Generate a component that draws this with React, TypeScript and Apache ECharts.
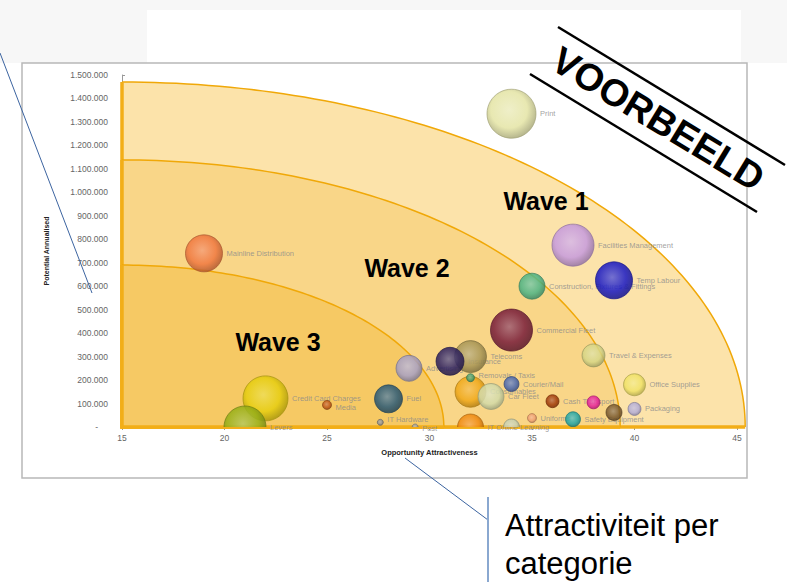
import { useEffect, useRef } from 'react';
import * as echarts from 'echarts';

// ---- data ----
const categories = [
  'Print', 'Facilities Management', 'Temp Labour', 'Construction, Fixtures & Fittings',
  'Commercial Fleet', 'Travel & Expenses', 'Office Supplies', 'Packaging', '', '',
  'Cash Transport', 'Uniforms', 'Safety Equipment', 'Telecoms', 'Insurance', 'Advertising',
  'Consumables', 'Car Fleet', 'Courier/Mail', 'Removals / Taxis', 'IT Online Learning', '',
  'Mainline Distribution', 'Credit Card Charges', 'Levers', 'Fuel', 'Media', 'IT Hardware', 'Post',
];
const attractiveness = [
  34, 37, 39, 35, 34, 38, 40, 40, 39, 38,
  36, 35, 37, 32, 31, 29, 32, 33, 34, 32, 32, 34,
  19, 22, 21, 28, 25, 27.6, 29.3,
];
const potential = [
  1335000, 775000, 625000, 600000, 413000, 305000, 180000, 77000, 62000, 105000,
  110000, 38000, 33000, 300000, 280000, 250000, 150000, 130000, 183000, 210000, 0, 0,
  740000, 122000, 0, 120000, 94000, 20000, 0,
];
const volume = [
  600, 441, 342, 169, 441, 132, 121, 42, 64, 42,
  42, 20, 56, 256, 196, 169, 240, 169, 56, 16, 169, 64,
  342, 506, 441, 196, 20, 9, 9,
];
const bubbleColors = [
  '#e4e4a4', '#c69ade', '#1818c4', '#4cb486', '#781c3a', '#d6d686', '#f0e266', '#b2acd6', '#7a5a30', '#e6209a',
  '#a03a08', '#f0a070', '#20a6a6', '#a89656', '#2c2060', '#a6a0c6', '#f0a818', '#d2daa8', '#4866ae', '#48a070', '#f08a10', '#c8d0b0',
  '#f07840', '#e6ce10', '#98b018', '#2a5a78', '#c05818', '#909090', '#a0a0a0',
];
// small label nudges (pixels) to limit text collisions
const labelNudge: Record<string, number[]> = {
  'Media': [0, 3],
  'Post': [0, 1],
  'IT Hardware': [0, -3],
  'Removals / Taxis': [0, -2],
};

const waveNames = ['Wave 1', 'Wave 2', 'Wave 3'];
const waveReachX = [30.4, 24.3, 15.7];
const waveReachY = [1470000, 1138000, 690000];
const waveFills = ['#fce3aa', '#f9d688', '#f6c964'];

const X_MIN = 15;
const X_MAX = 45;
const Y_MAX = 1500000;

const FONT = '"Liberation Sans", Arial, sans-serif';

function mix(hex: string, target: number, t: number) {
  const h = hex.replace('#', '');
  const r = parseInt(h.slice(0, 2), 16);
  const g = parseInt(h.slice(2, 4), 16);
  const b = parseInt(h.slice(4, 6), 16);
  const f = (c: number) => Math.round(c + (target - c) * t);
  return `rgb(${f(r)},${f(g)},${f(b)})`;
}

function fmtY(v: number) {
  if (v === 0) return '{d|-}';
  return String(v).replace(/\B(?=(\d{3})+(?!\d))/g, '.');
}

export default function App() {
  const ref = useRef<HTMLDivElement>(null);
  useEffect(() => {
    if (!ref.current) return;
    const chart = echarts.init(ref.current, undefined, { renderer: 'svg' });
    const bubbleData = categories.map((n, i) => ({
      name: n,
      value: [attractiveness[i], potential[i], volume[i]],
    }));
    const labelData = bubbleData.map((d) =>
      labelNudge[d.name] ? { ...d, label: { offset: labelNudge[d.name] } } : d
    );
    chart.setOption({
      animation: false,
      backgroundColor: '#ffffff',
      grid: { left: 122, right: 50, top: 75, bottom: 155 },
      xAxis: {
        type: 'value', min: X_MIN, max: X_MAX, interval: 5,
        name: 'Opportunity Attractiveness', nameLocation: 'middle', nameGap: 21,
        nameTextStyle: { fontSize: 7.5, fontWeight: 'bold', color: '#222', fontFamily: FONT },
        axisLine: { show: true, lineStyle: { color: '#999' } },
        axisTick: { show: true, length: 3, lineStyle: { color: '#999' } },
        axisLabel: { fontSize: 8.5, color: '#666', margin: 6, fontFamily: FONT },
        splitLine: { show: false },
      },
      yAxis: {
        type: 'value', min: 0, max: Y_MAX, interval: 100000,
        name: 'Potential Annualised', nameLocation: 'middle', nameGap: 72, nameRotate: 90,
        nameTextStyle: { fontSize: 7, fontWeight: 'bold', color: '#222', fontFamily: FONT },
        axisLine: { show: true, lineStyle: { color: '#999' } },
        axisTick: { show: true, inside: true, length: 3, lineStyle: { color: '#999' } },
        axisLabel: {
          fontSize: 8.5, color: '#666', margin: 14, fontFamily: FONT,
          formatter: fmtY,
          rich: { d: { fontSize: 8.5, color: '#666', padding: [0, 10, 0, 0] } },
        },
        splitLine: { show: false },
      },
      series: [
        {
          type: 'custom',
          name: 'waves',
          z: 2,
          silent: true,
          data: waveNames.map((n, i) => ({ name: n, value: [waveReachX[i], waveReachY[i]] })),
          renderItem: (params: any, api: any) => {
            const i = params.dataIndex;
            const rx = api.value(0);
            const ry = api.value(1);
            const pts: number[][] = [];
            for (let k = 0; k <= 90; k++) {
              const t = (k * Math.PI) / 180;
              pts.push(api.coord([X_MIN + rx * Math.cos(t), ry * Math.sin(t)]));
            }
            const o = api.coord([X_MIN, 0]);
            return {
              type: 'group',
              children: [
                { type: 'polygon', shape: { points: [o, ...pts] }, style: { fill: waveFills[i] } },
                { type: 'polyline', shape: { points: pts }, style: { stroke: '#f0a808', lineWidth: 1.5, fill: 'none' } },
                { type: 'polyline', shape: { points: [pts[pts.length - 1], o, pts[0]] }, style: { stroke: '#f2ae18', lineWidth: 3.5, fill: 'none' } },
              ],
            };
          },
        },
        {
          type: 'scatter',
          name: 'labels',
          z: 3,
          clip: false,
          silent: true,
          data: labelData,
          symbolSize: (val: number[]) => 2 * Math.sqrt(val[2]),
          itemStyle: { color: 'rgba(0,0,0,0)' },
          label: {
            show: true, position: 'right', distance: 4,
            formatter: (p: any) => p.name,
            fontSize: 7.5, color: '#8a8a8a', fontFamily: FONT,
          },
        },
        {
          type: 'custom',
          name: 'bubbles',
          z: 4,
          clip: true,
          silent: true,
          data: bubbleData,
          renderItem: (params: any, api: any) => {
            const c = api.coord([api.value(0), api.value(1)]);
            const r = Math.sqrt(api.value(2));
            const col = bubbleColors[params.dataIndex];
            return {
              type: 'circle',
              shape: { cx: c[0], cy: c[1], r },
              style: {
                fill: new echarts.graphic.RadialGradient(0.45, 0.42, 0.62, [
                  { offset: 0, color: mix(col, 255, 0.3) },
                  { offset: 0.6, color: col },
                  { offset: 1, color: mix(col, 0, 0.3) },
                ]),
                stroke: mix(col, 0, 0.3),
                lineWidth: 0.8,
                opacity: 0.85,
              },
            };
          },
        },
      ],
      graphic: [
        { type: 'rect', z: -10, shape: { x: 0, y: 0, width: 787, height: 63 }, style: { fill: '#f7f7f7' } },
        { type: 'rect', z: -9, shape: { x: 147, y: 10, width: 594, height: 53 }, style: { fill: '#ffffff' } },
        { type: 'rect', z: -8, shape: { x: 22, y: 63, width: 725, height: 415 }, style: { fill: 'none', stroke: '#b8b8b8', lineWidth: 1.5 } },
        { type: 'text', z: 50, style: { text: 'Wave 1', x: 546, y: 201, textAlign: 'center', textVerticalAlign: 'middle', fontSize: 25, fontWeight: 'bold', fontFamily: FONT, fill: '#000' } },
        { type: 'text', z: 50, style: { text: 'Wave 2', x: 407, y: 268, textAlign: 'center', textVerticalAlign: 'middle', fontSize: 25, fontWeight: 'bold', fontFamily: FONT, fill: '#000' } },
        { type: 'text', z: 50, style: { text: 'Wave 3', x: 278, y: 342, textAlign: 'center', textVerticalAlign: 'middle', fontSize: 25, fontWeight: 'bold', fontFamily: FONT, fill: '#000' } },
        { type: 'line', z: 60, shape: { x1: 558, y1: 27, x2: 785, y2: 165 }, style: { stroke: '#000', lineWidth: 2.5 } },
        { type: 'line', z: 60, shape: { x1: 530, y1: 74, x2: 757, y2: 212 }, style: { stroke: '#000', lineWidth: 2.5 } },
        { type: 'text', z: 60, x: 658, y: 119, rotation: -0.546, style: { text: 'VOORBEELD', x: 0, y: 0, textAlign: 'center', textVerticalAlign: 'middle', fontSize: 38, fontWeight: 'bold', fontFamily: FONT, fill: '#000' } },
        { type: 'line', z: 60, shape: { x1: 0, y1: 53, x2: 92, y2: 293 }, style: { stroke: '#3c64a0', lineWidth: 1 } },
        { type: 'line', z: 60, shape: { x1: 405, y1: 458, x2: 488, y2: 520 }, style: { stroke: '#3c64a0', lineWidth: 1 } },
        { type: 'line', z: 60, shape: { x1: 488, y1: 497, x2: 488, y2: 582 }, style: { stroke: '#8aa8d0', lineWidth: 2 } },
        { type: 'text', z: 60, style: { text: 'Attractiviteit per', x: 505, y: 525, textVerticalAlign: 'middle', fontSize: 31, fontFamily: FONT, fill: '#000' } },
        { type: 'text', z: 60, style: { text: 'categorie', x: 505, y: 563, textVerticalAlign: 'middle', fontSize: 31, fontFamily: FONT, fill: '#000' } },
      ],
    });
    return () => chart.dispose();
  }, []);
  return (
    <div
      ref={ref}
      style={{ position: 'fixed', left: 0, top: 0, width: 787, height: 582 }}
    />
  );
}
